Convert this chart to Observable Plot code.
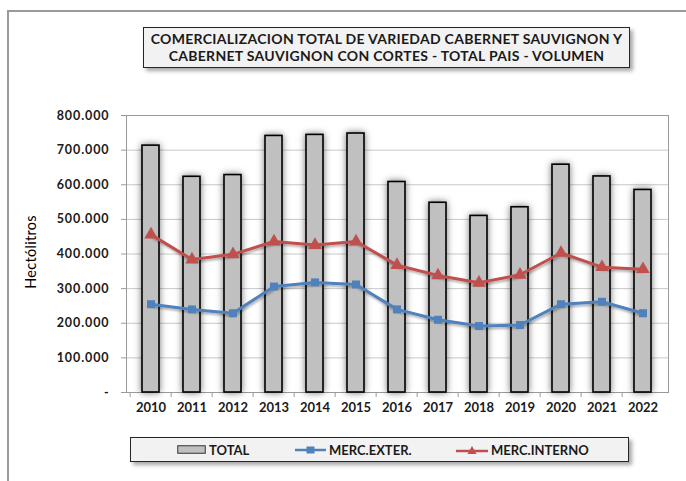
<!DOCTYPE html>
<html>
<head>
<meta charset="utf-8">
<script src="https://cdn.jsdelivr.net/npm/d3@7"></script>
<script src="https://cdn.jsdelivr.net/npm/@observablehq/plot@0.6"></script>
<style>
  html, body { margin: 0; padding: 0; background: #fff; }
  #wrap { position: relative; width: 686px; height: 481px; overflow: hidden; background: #fff; font-family: Lato, "Open Sans", sans-serif; }
  #frame { position: absolute; left: 7px; top: 10px; width: 700px; height: 500px; border-left: 2px solid #9a9a9a; border-top: 2px solid #9a9a9a; }
  #title { position: absolute; left: 143px; top: 27px; width: 485px; height: 37px; border: 1.5px solid #262626; background: #f2f2f2;
    box-shadow: 3px 3px 4px rgba(0,0,0,0.35); text-align: center; font-weight: bold; font-size: 14px; letter-spacing: 0.3px; line-height: 17px; color: #1a1a1a; padding-top: 2px; box-sizing: content-box; }
  #ylabel { position: absolute; left: 30px; top: 252px; transform: translate(-50%, -50%) rotate(-90deg); font-size: 14.5px; letter-spacing: 0.3px; color: #000; white-space: nowrap; }
  #chart { position: absolute; left: 0; top: 0; }
  #legend { position: absolute; left: 130px; top: 437px; width: 497px; height: 23px; border: 1.5px solid #262626; background: #f2f2f2;
    box-shadow: 3px 3px 4px rgba(0,0,0,0.35); font-weight: bold; font-size: 13px; color: #1a1a1a; }
  .item { position: absolute; top: 0; height: 23px; display: flex; align-items: center; white-space: nowrap; }
  .item svg { margin-right: 3px; }
  .ytick text { letter-spacing: 0.9px; }
</style>
</head>
<body>
<div id="wrap">
  <div id="frame"></div>
  <div id="chart"></div>
  <div id="title">COMERCIALIZACION TOTAL DE VARIEDAD CABERNET SAUVIGNON Y<br>CABERNET SAUVIGNON CON CORTES - TOTAL PAIS - VOLUMEN</div>
  <div id="ylabel">Hectólitros</div>
  <div id="legend"></div>
</div>
<script>
// ---- data ----
const years = ["2010","2011","2012","2013","2014","2015","2016","2017","2018","2019","2020","2021","2022"];
const total = [713000, 623000, 628000, 741000, 744000, 748000, 608000, 548000, 510000, 535000, 658000, 624000, 585000];
const mercExter = [255000, 240000, 229000, 306000, 318000, 312000, 240000, 210000, 192000, 195000, 255000, 262000, 229000];
const mercInterno = [456000, 384000, 399000, 436000, 426000, 436000, 368000, 338000, 317000, 340000, 403000, 362000, 356000];
const yTicks = [0, 100000, 200000, 300000, 400000, 500000, 600000, 700000, 800000];
const seriesNames = ["TOTAL", "MERC.EXTER.", "MERC.INTERNO"];
const colors = { total: "#c0c0c0", exter: "#4f81bd", interno: "#c0504d" };

const data = years.map((y, i) => ({ year: y, total: total[i], exter: mercExter[i], interno: mercInterno[i] }));

const W = 686, H = 481, mL = 126, mR = 18, mT = 115, mB = 89;
const step = (W - mL - mR) / years.length;
const fmt = d => d === 0 ? "-" : d3.format(",")(d).replace(/,/g, ".");

const chart = Plot.plot({
  width: W, height: H,
  marginLeft: mL, marginRight: mR, marginTop: mT, marginBottom: mB,
  style: { fontFamily: "Lato, 'Open Sans', sans-serif", background: "transparent", color: "#1a1a1a" },
  x: { type: "band", domain: years, paddingInner: 0.58, paddingOuter: 0.29, label: null },
  y: { domain: [0, 800000], label: null },
  marks: [
    Plot.gridY(yTicks, { stroke: "#c8c8c8", strokeOpacity: 1, strokeWidth: 1 }),
    Plot.frame({ stroke: "#9a9a9a" }),
    Plot.barY(data, { x: "year", y: "total", fill: colors.total, stroke: "#000", strokeWidth: 1.6 }),
    Plot.line(data, { x: "year", y: "interno", stroke: colors.interno, strokeWidth: 3 }),
    Plot.dot(data, { x: "year", y: "interno", symbol: "triangle", fill: colors.interno, r: 5 }),
    Plot.line(data, { x: "year", y: "exter", stroke: colors.exter, strokeWidth: 3 }),
    Plot.dot(data, { x: "year", y: "exter", symbol: "square", fill: colors.exter, r: 4.5 }),
    Plot.axisY(yTicks, { tickFormat: fmt, tickSize: 5, tickPadding: 12, stroke: "#9a9a9a", fontWeight: "bold", fontSize: 12.5, fill: "#1a1a1a", label: null, className: "ytick" }),
    Plot.axisX({ tickSize: 0, tickPadding: 10, fontWeight: "bold", fontSize: 13, fill: "#1a1a1a", label: null }),
    Plot.axisX({ tickSize: 5, tickFormat: () => "", stroke: "#9a9a9a", dx: -step / 2, label: null })
  ]
});

// shadows
const ns = "http://www.w3.org/2000/svg";
const defs = document.createElementNS(ns, "defs");
defs.innerHTML = `<filter id="barShadow" x="-60%" y="-10%" width="220%" height="130%"><feDropShadow dx="0" dy="0" stdDeviation="3.5" flood-color="#000" flood-opacity="0.55"/></filter>
<filter id="lineShadow" x="-10%" y="-30%" width="120%" height="160%"><feDropShadow dx="1" dy="2" stdDeviation="1.2" flood-color="#000" flood-opacity="0.3"/></filter>`;
chart.insertBefore(defs, chart.firstChild);
chart.querySelectorAll('g[aria-label="bar"]').forEach(g => g.setAttribute("filter", "url(#barShadow)"));
chart.querySelectorAll('g[aria-label="line"]').forEach(g => g.setAttribute("filter", "url(#lineShadow)"));
// y tick labels letter spacing (fallback if className unsupported)
chart.querySelectorAll('g[aria-label="y-axis tick label"] text').forEach(t => t.style.letterSpacing = "0.9px");
document.getElementById("chart").appendChild(chart);

// legend
const legend = document.getElementById("legend");
const items = [
  { name: seriesNames[0], left: 46, svg: `<svg width="29" height="9"><rect x="0.75" y="0.75" width="27.5" height="7.5" fill="${colors.total}" stroke="#333" stroke-width="1"/></svg>` },
  { name: seriesNames[1], left: 164, svg: `<svg width="31" height="10"><line x1="0" y1="5" x2="31" y2="5" stroke="${colors.exter}" stroke-width="2.5"/><rect x="11.5" y="1.5" width="8" height="7" fill="${colors.exter}"/></svg>` },
  { name: seriesNames[2], left: 325, svg: `<svg width="32" height="10"><line x1="0" y1="6" x2="32" y2="6" stroke="${colors.interno}" stroke-width="2.5"/><path d="M16,1 L20.5,9 L11.5,9 Z" fill="${colors.interno}"/></svg>` }
];
items.forEach(it => {
  const d = document.createElement("div");
  d.className = "item";
  d.style.left = it.left + "px";
  d.innerHTML = it.svg + "<span>" + it.name + "</span>";
  legend.appendChild(d);
});
</script>
</body>
</html>
